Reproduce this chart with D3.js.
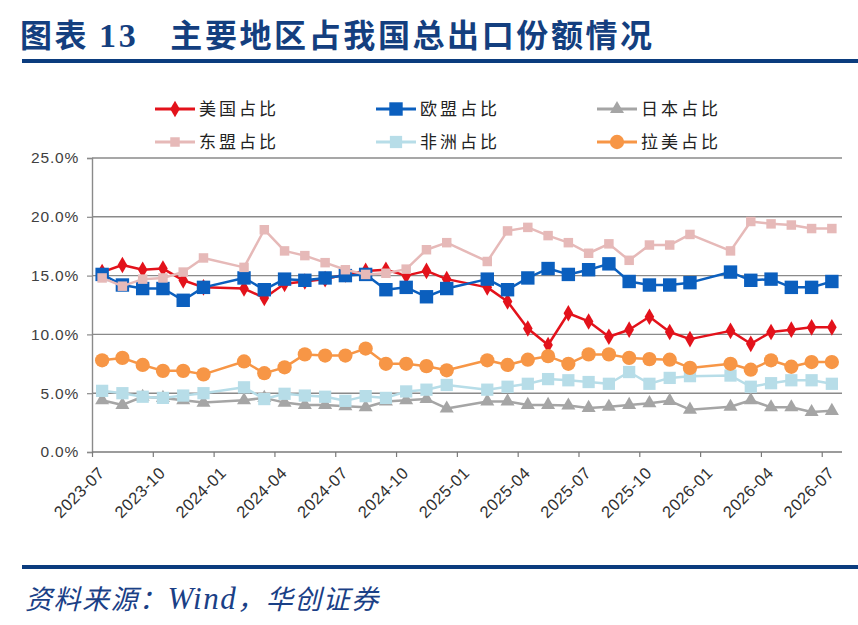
<!DOCTYPE html>
<html><head><meta charset="utf-8">
<script src="https://cdn.jsdelivr.net/npm/d3@7"></script>
<style>html,body{margin:0;padding:0;background:#fff;}svg{display:block;}</style>
</head><body>
<script>
const months = ["2023-07","2023-08","2023-09","2023-10","2023-11","2023-12",
"2024-02","2024-03","2024-04","2024-05","2024-06","2024-07","2024-08","2024-09","2024-10","2024-11","2024-12",
"2025-02","2025-03","2025-04","2025-05","2025-06","2025-07","2025-08","2025-09","2025-10","2025-11","2025-12",
"2026-02","2026-03","2026-04","2026-05","2026-06","2026-07"];
const usShare    = [15.3,15.9,15.5,15.6,14.6,14.0, 13.9,13.1,14.3,14.5,14.7,15.1,15.4,15.5,15.0,15.4,14.7, 14.0,12.8,10.5,9.1,11.8,11.1,9.8,10.4,11.5,10.2,9.6, 10.3,9.2,10.2,10.4,10.6,10.6];
const euShare    = [15.1,14.2,13.9,13.9,12.9,14.0, 14.8,13.8,14.7,14.6,14.8,15.0,15.1,13.8,14.0,13.2,13.9, 14.7,13.8,14.8,15.6,15.1,15.5,16.0,14.5,14.2,14.2,14.4, 15.3,14.6,14.7,14.0,14.0,14.5];
const japanShare = [4.4,4.0,4.7,4.6,4.4,4.2, 4.4,4.6,4.2,4.0,4.0,3.9,3.8,4.3,4.4,4.5,3.7, 4.3,4.3,4.0,4.0,3.95,3.75,3.85,4.0,4.15,4.35,3.6, 3.85,4.4,3.8,3.8,3.4,3.5];
const aseanShare = [14.8,14.1,14.7,14.8,15.3,16.5, 15.7,18.9,17.1,16.7,16.1,15.5,15.1,15.2,15.55,17.2,17.8, 16.2,18.8,19.1,18.4,17.8,16.9,17.7,16.3,17.6,17.6,18.5, 17.1,19.6,19.4,19.3,19.0,19.0];
const africaShare= [5.2,5.0,4.7,4.6,4.8,5.0, 5.5,4.5,4.95,4.8,4.7,4.35,4.75,4.6,5.15,5.3,5.7, 5.3,5.55,5.8,6.2,6.1,5.95,5.8,6.8,5.8,6.3,6.45, 6.5,5.55,5.85,6.1,6.1,5.8];
const latamShare = [7.8,8.0,7.4,6.9,6.9,6.6, 7.7,6.7,7.2,8.3,8.2,8.2,8.8,7.5,7.5,7.3,6.95, 7.8,7.4,7.85,8.15,7.5,8.3,8.3,8.0,7.9,7.85,7.15, 7.5,7.0,7.8,7.25,7.65,7.65];
const seriesNames = ["美国占比","欧盟占比","日本占比","东盟占比","非洲占比","拉美占比"];
const xTickLabels = ["2023-07","2023-10","2024-01","2024-04","2024-07","2024-10","2025-01","2025-04","2025-07","2025-10","2026-01","2026-04","2026-07"];
const yTicks = [0,5,10,15,20,25];

const W = 858, H = 625;
const svg = d3.select("body").append("svg").attr("width", W).attr("height", H);

// title
const navy = "#143f7f";
const title = svg.append("text").attr("x", 20).attr("y", 47).attr("fill", navy)
  .style("font-family", "'Noto Sans CJK SC'").style("font-weight", 700).style("font-size", "32px").style("letter-spacing", "2.6px");
title.append("tspan").text("图表 ");
title.append("tspan").style("font-family", "'Liberation Serif'").style("font-size","34px").text("13");
title.append("tspan").attr("dx", 32).text("主要地区占我国总出口份额情况");
svg.append("rect").attr("x", 22).attr("y", 59).attr("width", W - 22).attr("height", 4).attr("fill", "#0b3c7e");
svg.append("rect").attr("x", 22).attr("y", 565).attr("width", W - 22).attr("height", 4).attr("fill", "#0b3c7e");

const src = svg.append("text").attr("x", 25).attr("y", 609).attr("fill", "#1a4086")
  .style("font-family", "'Noto Sans CJK SC'").style("font-style", "italic").style("font-size", "27px").style("letter-spacing", "1.5px");
src.append("tspan").text("资料来源：");
src.append("tspan").style("font-family", "'Liberation Serif'").style("font-size","31px").text("Wind");
src.append("tspan").text("，华创证券");

// scales
const monthIndex = m => { const [y, mo] = m.split("-").map(Number); return (y - 2023) * 12 + (mo - 7); };
const x = d3.scaleLinear().domain([0, 37]).range([92, 842]);
const y = d3.scaleLinear().domain([0, 25]).range([452, 158]);

const g = svg.append("g");
// gridlines
g.selectAll("line.grid").data(yTicks.filter(t => t > 0)).enter().append("line")
  .attr("x1", x(0)).attr("x2", x(37)).attr("y1", d => y(d)).attr("y2", d => y(d))
  .attr("stroke", "#8a8a8a").attr("stroke-width", 1.4);

// y axis
const yAxis = d3.axisLeft(y).tickValues(yTicks).tickSize(5).tickPadding(8).tickFormat(d => d.toFixed(1) + "%");
const ya = svg.append("g").attr("transform", `translate(${x(0)},0)`).call(yAxis);
ya.select(".domain").attr("stroke", "#8a8a8a").attr("stroke-width", 1.4);
ya.selectAll(".tick line").attr("stroke", "#8a8a8a").attr("stroke-width", 1.2);
ya.selectAll("text").attr("fill", "#404040").style("font-family", "'Liberation Sans'").style("font-size", "15.5px").style("letter-spacing","0.8px");

// x axis
const tickIdx = xTickLabels.map(monthIndex);
const xAxis = d3.axisBottom(x).tickValues(tickIdx).tickSize(5).tickFormat((d, i) => xTickLabels[i]);
const xa = svg.append("g").attr("transform", `translate(0,${y(0)})`).call(xAxis);
xa.select(".domain").attr("stroke", "#7a7a7a").attr("stroke-width", 1.6).attr("d", `M${x(0)},0H${x(37)}`);
xa.selectAll(".tick line").attr("stroke", "#7a7a7a").attr("stroke-width", 1.2);
xa.selectAll("text").attr("fill", "#303030").style("font-family", "'Liberation Sans'").style("font-size", "16.5px")
  .style("letter-spacing", "0.4px")
  .attr("text-anchor", "end").attr("dy", "0.35em").attr("y", 0)
  .attr("transform", "translate(9,18) rotate(-45)");

const seriesData = [usShare, euShare, japanShare, aseanShare, africaShare, latamShare];
const styles = [
  {color: "#e3121b", sym: d3.symbolDiamond, size: 80, w: 2.5},
  {color: "#0b5fbe", sym: d3.symbolSquare, size: 180, w: 2.5},
  {color: "#a5a5a5", sym: d3.symbolTriangle, size: 85, w: 2.5},
  {color: "#e6b9b8", sym: d3.symbolSquare, size: 90, w: 2.5},
  {color: "#b7dde8", sym: d3.symbolSquare, size: 150, w: 2.5},
  {color: "#f79646", sym: d3.symbolCircle, size: 160, w: 2.5}
];

const line = d3.line().x(d => x(monthIndex(d.m) + 0.5)).y(d => y(d.v));
seriesData.forEach((vals, si) => {
  const st = styles[si];
  const pts = months.map((m, i) => ({m, v: vals[i]}));
  const sg = svg.append("g");
  sg.append("path").datum(pts).attr("d", line).attr("fill", "none")
    .attr("stroke", st.color).attr("stroke-width", st.w).attr("stroke-linejoin", "round");
  sg.selectAll("path.m").data(pts).enter().append("path")
    .attr("d", d3.symbol().type(st.sym).size(st.size))
    .attr("transform", d => `translate(${x(monthIndex(d.m) + 0.5)},${y(d.v)})`)
    .attr("fill", st.color);
});

// legend
const legX = [155, 376, 597], legY = [109, 142];
seriesNames.forEach((name, i) => {
  const st = styles[i];
  const lx = legX[i % 3], ly = legY[Math.floor(i / 3)];
  const lg = svg.append("g");
  lg.append("line").attr("x1", lx).attr("x2", lx + 40).attr("y1", ly).attr("y2", ly)
    .attr("stroke", st.color).attr("stroke-width", 2.8);
  lg.append("path").attr("d", d3.symbol().type(st.sym).size(st.size))
    .attr("transform", `translate(${lx + 20},${ly})`).attr("fill", st.color);
  lg.append("text").attr("x", lx + 44).attr("y", ly).attr("dy", "0.36em").text(name)
    .attr("fill", "#222").style("font-family", "'Noto Sans CJK SC'").style("font-size", "17px").style("letter-spacing", "3px");
});
</script>
</body></html>
